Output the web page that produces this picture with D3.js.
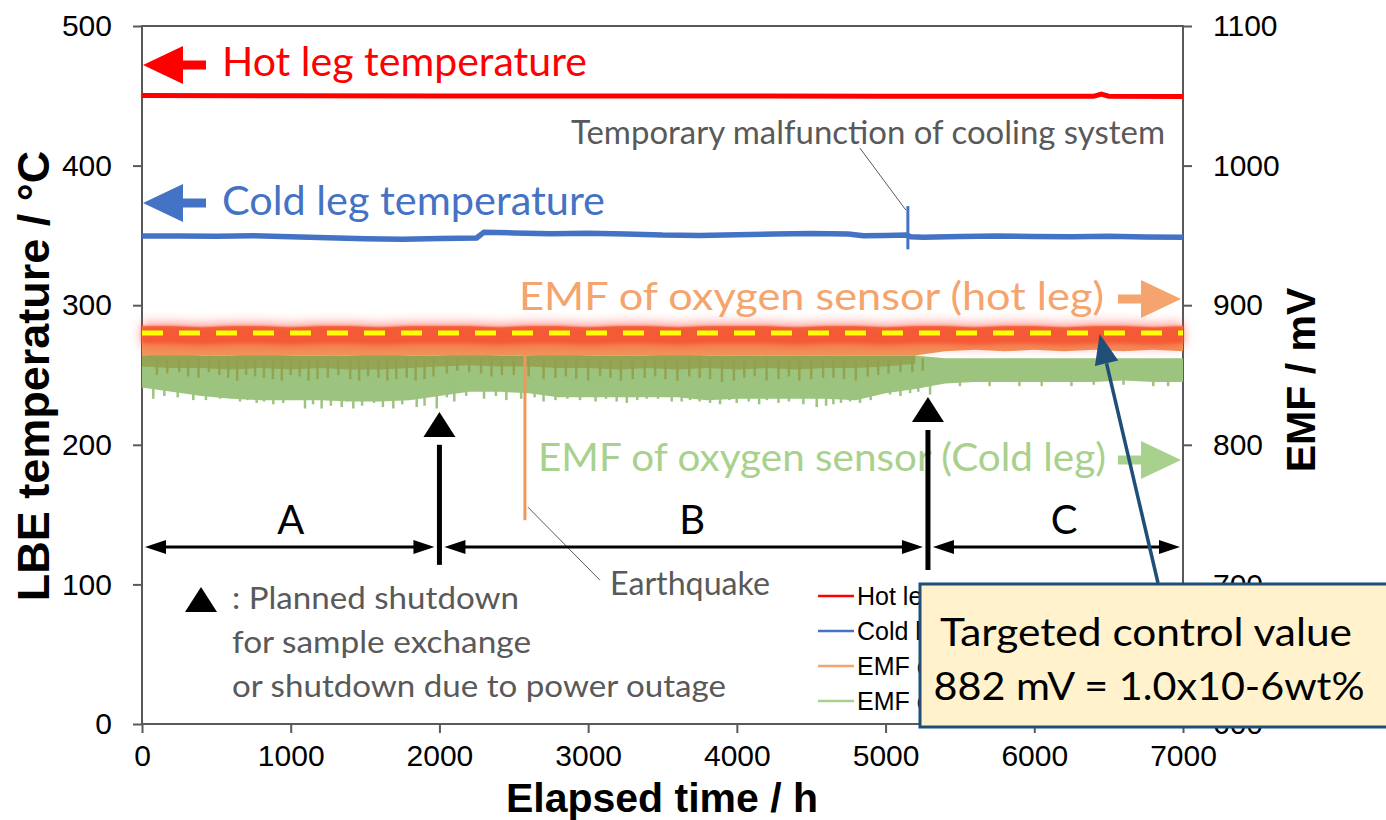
<!DOCTYPE html>
<html>
<head>
<meta charset="utf-8">
<script src="https://cdn.jsdelivr.net/npm/d3@7"></script>
<style>
body { margin: 0; background: #fff; }
svg text { font-family: Lato, "Open Sans", sans-serif; }
.axisText { font-family: "Liberation Sans", Arial, sans-serif; }
</style>
</head>
<body>
<svg id="chart" width="1386" height="820"></svg>
<script>
// temperatures (degC)
var hotHours = [0, 1000, 2000, 3000, 4000, 5000, 6000, 6400, 6450, 6500, 7000];
var hotTemp = [450.2, 450.0, 449.9, 449.9, 449.8, 449.7, 449.6, 449.6, 451.2, 449.7, 449.5];

var coldHours = [0, 250, 500, 750, 1000, 1250, 1500, 1750, 2000, 2250, 2300, 2500, 2750, 3000, 3250, 3500, 3750, 4000, 4250, 4500, 4750, 4850, 5000, 5140, 5170, 5250, 5500, 5750, 6000, 6250, 6500, 6750, 7000];
var coldTemp = [349.5, 349.6, 349.4, 349.8, 349.0, 348.3, 347.6, 347.3, 347.8, 348.2, 352.3, 351.8, 351.2, 351.6, 351.0, 350.2, 350.0, 350.4, 351.0, 351.3, 351.0, 349.8, 350.0, 350.3, 349.0, 348.6, 349.2, 349.5, 349.2, 349.0, 349.4, 348.8, 348.6];
var coldSpikeHour = 5150;
var coldSpikeRange = [340, 371];

// EMF envelopes (mV), every 200 h
var emfHours = [0, 200, 400, 600, 800, 1000, 1200, 1400, 1600, 1800, 2000, 2200, 2400, 2600, 2800, 3000, 3200, 3400, 3600, 3800, 4000, 4200, 4400, 4600, 4800, 5000, 5200, 5400, 5600, 5800, 6000, 6200, 6400, 6600, 6800, 7000];
var emfHotTop = [885, 885, 884, 885, 885, 884, 885, 885, 884, 885, 885, 885, 884, 885, 885, 884, 885, 885, 884, 885, 885, 885, 884, 885, 885, 884, 885, 885, 884, 885, 885, 884, 885, 885, 884, 885];
var emfHotBottom = [864, 864, 864, 864, 864, 864, 864, 864, 864, 864, 864, 864, 864, 864, 864, 864, 864, 864, 864, 864, 864, 864, 864, 864, 864, 864, 864, 867, 868, 867, 868, 867, 868, 867, 868, 867];
var emfColdTop = [864, 865, 864, 864, 865, 864, 864, 864, 865, 864, 864, 865, 864, 864, 865, 864, 864, 864, 865, 864, 864, 864, 864, 864, 864, 864, 864, 862, 862, 862, 862, 862, 862, 862, 862, 862];
var emfColdBottom = [841, 838, 835, 833, 832, 832, 832, 831, 831, 832, 835, 838, 838, 837, 834, 834, 834, 834, 834, 832, 833, 833, 833, 833, 832, 837, 840, 844, 845, 845, 845, 845, 845, 846, 845, 845];
// hot-leg trace dipping into the cold-leg band (0 - 5200 h)
var overlapBottom = [856, 855, 855, 854, 855, 854, 855, 854, 854, 855, 856, 857, 856, 856, 855, 855, 854, 855, 854, 855, 854, 855, 854, 855, 855, 856, 858];

var overlapDipHours = [100, 170, 250, 310, 380, 450, 520, 580, 640, 700, 760, 820, 880, 940, 1000, 1060, 1120, 1180, 1250, 1320, 1400, 1460, 1520, 1590, 1650, 1710, 1780, 1840, 1900, 1960, 2050, 2120, 2200, 2280, 2350, 2420, 2500, 2600, 2700, 2780, 2850, 2920, 3000, 3080, 3150, 3220, 3300, 3380, 3450, 3520, 3600, 3680, 3750, 3820, 3900, 3980, 4050, 4120, 4200, 4280, 4350, 4420, 4500, 4580, 4650, 4720, 4800, 4880, 4950, 5020, 5100, 5180, 5250];
var overlapDipMv = [850, 851, 852, 849, 848, 852, 850, 848, 846, 850, 849, 848, 847, 846, 850, 849, 846, 847, 848, 850, 847, 846, 849, 848, 846, 847, 848, 846, 847, 849, 851, 853, 852, 851, 849, 850, 850, 849, 847, 848, 849, 847, 846, 849, 848, 846, 847, 848, 849, 847, 846, 849, 848, 847, 845, 846, 848, 849, 846, 847, 849, 846, 847, 848, 848, 847, 846, 849, 850, 851, 852, 852, 853];
var coldDipHours = [76, 150, 240, 345, 430, 525, 600, 659, 710, 771, 820, 883, 950, 1020, 1096, 1150, 1208, 1270, 1343, 1380, 1421, 1480, 1560, 1620, 1690, 1750, 1847, 1900, 1982, 2050, 2100, 2180, 2300, 2380, 2450, 2550, 2640, 2700, 2780, 2860, 2945, 3050, 3120, 3192, 3260, 3330, 3394, 3470, 3562, 3629, 3685, 3750, 3820, 3887, 3950, 3999, 4080, 4150, 4201, 4280, 4350, 4447, 4537, 4600, 4649, 4700, 4761, 4828, 4900, 5030, 5100, 5165, 5220, 5299, 5500, 5700, 5900, 6050, 6250, 6400, 6600, 6800, 6900];
var coldDipMv = [834, 836, 835, 833, 833, 834, 835, 832, 833, 831, 832, 830, 831, 833, 827, 830, 827, 829, 828, 832, 827, 829, 831, 828, 827, 830, 828, 829, 827, 835, 832, 836, 834, 836, 833, 834, 835, 832, 833, 834, 833, 832, 834, 832, 831, 833, 834, 834, 832, 832, 833, 832, 831, 830, 833, 831, 832, 830, 833, 831, 832, 830, 828, 829, 830, 831, 832, 831, 833, 837, 836, 838, 839, 837, 843, 843, 843, 843, 843, 844, 844, 843, 843];

var quakeHour = 2575;
var quakeRange = [746, 864];
var targetMv = 880;

var shutdownHours = [2000, 5285];
var shutdownTip = [223.5, 234.2];
var shutdownShaft = [[200, 114], [210.6, 110.3]];

var periodNames = ["A", "B", "C"];
var periodStart = [0, 2000, 5285];
var periodEnd = [2000, 5285, 7000];
var periodLabelHour = [1000, 3700, 6200];
var periodLevel = 126.8;

var xTicks = [0, 1000, 2000, 3000, 4000, 5000, 6000, 7000];
var leftTicks = [0, 100, 200, 300, 400, 500];
var rightTicks = [600, 700, 800, 900, 1000, 1100];

var legendNames = ["Hot leg temperature", "Cold leg temperature", "EMF of oxygen sensor (hot leg)", "EMF of oxygen sensor (Cold leg)"];

var hotColor = "#ff0000";
var coldColor = "#4472c4";
var emfHotColor = "#f0965a";
var emfHotText = "#f4a46c";
var emfColdColor = "#9cc47f";
var emfColdText = "#a9d18e";
var overlapColor = "#93a04d";
var grey = "#595959";
var calloutBlue = "#1f4e79";

var svg = d3.select("#chart");

var x = d3.scaleLinear().domain([0, 7000]).range([142, 1183]);
var yL = d3.scaleLinear().domain([0, 500]).range([724, 26]);
var yR = d3.scaleLinear().domain([600, 1100]).range([724, 26]);

var defs = svg.append("defs");
defs.append("filter").attr("id", "glow")
    .attr("x", "-5%").attr("y", "-300%").attr("width", "110%").attr("height", "700%")
    .append("feGaussianBlur").attr("stdDeviation", 6);
defs.append("filter").attr("id", "soft")
    .attr("x", "-5%").attr("y", "-200%").attr("width", "110%").attr("height", "500%")
    .append("feGaussianBlur").attr("stdDeviation", 1.6);
defs.append("clipPath").attr("id", "legendClip")
    .append("rect").attr("x", 0).attr("y", 560).attr("width", 920).attr("height", 170);

// axes
var fmt = d3.format("d");
var gLeft = svg.append("g").attr("transform", "translate(142,0)")
    .call(d3.axisLeft(yL).tickValues(leftTicks).tickFormat(fmt).tickSize(9).tickPadding(21));
var gRight = svg.append("g").attr("transform", "translate(1183,0)")
    .call(d3.axisRight(yR).tickValues(rightTicks).tickFormat(fmt).tickSize(9).tickPadding(21));
var gBottom = svg.append("g").attr("transform", "translate(0,724)")
    .call(d3.axisBottom(x).tickValues(xTicks).tickFormat(fmt).tickSize(9).tickPadding(12));

[gLeft, gRight, gBottom].forEach(function (g) {
    g.select(".domain").remove();
    g.selectAll(".tick line").attr("stroke", grey).attr("stroke-width", 2);
    g.selectAll(".tick text").attr("class", "axisText").attr("fill", "#000").style("font-size", "30px");
});

svg.append("rect")
    .attr("x", x(0)).attr("y", yL(500))
    .attr("width", x(7000) - x(0)).attr("height", yL(0) - yL(500))
    .attr("fill", "none").attr("stroke", grey).attr("stroke-width", 2);

// axis titles
svg.append("text").attr("class", "axisText")
    .attr("transform", "translate(49,376) rotate(-90)")
    .attr("text-anchor", "middle").style("font-size", "45px").style("font-weight", "bold")
    .text("LBE temperature / °C");
svg.append("text").attr("class", "axisText")
    .attr("transform", "translate(1315,380) rotate(-90)")
    .attr("text-anchor", "middle").style("font-size", "41px").style("font-weight", "bold")
    .text("EMF / mV");
svg.append("text").attr("class", "axisText")
    .attr("x", 662).attr("y", 812)
    .attr("text-anchor", "middle").style("font-size", "41px").style("font-weight", "bold")
    .text("Elapsed time / h");

// EMF bands
function band(top, bottom, n) {
    return d3.area()
        .x(function (d, i) { return x(emfHours[i]); })
        .y0(function (d, i) { return yR(bottom[i]); })
        .y1(function (d, i) { return yR(top[i]); })(d3.range(n));
}

svg.append("path").attr("d", band(emfColdTop, emfColdBottom, emfHours.length))
    .attr("fill", emfColdColor);

svg.selectAll(".coldDip")
    .data(coldDipHours)
    .enter().append("line").attr("class", "coldDip")
    .attr("x1", function (d) { return x(d); })
    .attr("x2", function (d) { return x(d); })
    .attr("y1", yR(858))
    .attr("y2", function (d, i) { return yR(coldDipMv[i] - 1); })
    .attr("stroke", emfColdColor).attr("stroke-width", 2.5);

svg.append("path").attr("d", band(emfColdTop, overlapBottom, overlapBottom.length))
    .attr("fill", overlapColor).attr("opacity", 0.85);

svg.selectAll(".overlapDip")
    .data(overlapDipHours)
    .enter().append("line").attr("class", "overlapDip")
    .attr("x1", function (d) { return x(d); })
    .attr("x2", function (d) { return x(d); })
    .attr("y1", yR(862))
    .attr("y2", function (d, i) { return yR(overlapDipMv[i]); })
    .attr("stroke", overlapColor).attr("stroke-width", 2.5).attr("opacity", 0.9);

svg.append("path").attr("d", band(emfHotTop, emfHotBottom, emfHours.length))
    .attr("fill", emfHotColor);

// red highlight glow round the hot-leg EMF
var glowTop = emfHotTop.map(function (v) { return v + 2; });
var glowBottom = emfHotTop.map(function (v) { return v - 14; });
svg.append("path").attr("d", band(glowTop, glowBottom, emfHours.length))
    .attr("fill", "#ff3c32").attr("opacity", 0.55).attr("filter", "url(#glow)");
var coreBottom = emfHotTop.map(function (v) { return v - 12; });
svg.append("path").attr("d", band(emfHotTop, coreBottom, emfHours.length))
    .attr("fill", "#f45a34").attr("filter", "url(#soft)");

svg.append("line")
    .attr("x1", x(quakeHour)).attr("x2", x(quakeHour))
    .attr("y1", yR(quakeRange[1])).attr("y2", yR(quakeRange[0]))
    .attr("stroke", emfHotColor).attr("stroke-width", 3);

svg.append("line")
    .attr("x1", x(0)).attr("x2", x(7000))
    .attr("y1", yR(targetMv)).attr("y2", yR(targetMv))
    .attr("stroke", "#ffff00").attr("stroke-width", 5).attr("stroke-dasharray", "21,16");

// temperatures
var tempLine = d3.line()
    .x(function (d) { return x(d[0]); })
    .y(function (d) { return yL(d[1]); });

svg.append("path").datum(hotHours.map(function (h, i) { return [h, hotTemp[i]]; }))
    .attr("d", tempLine).attr("fill", "none").attr("stroke", hotColor).attr("stroke-width", 5);
svg.append("path").datum(coldHours.map(function (h, i) { return [h, coldTemp[i]]; }))
    .attr("d", tempLine).attr("fill", "none").attr("stroke", coldColor).attr("stroke-width", 5.5);
svg.append("line")
    .attr("x1", x(coldSpikeHour)).attr("x2", x(coldSpikeHour))
    .attr("y1", yL(coldSpikeRange[0])).attr("y2", yL(coldSpikeRange[1]))
    .attr("stroke", coldColor).attr("stroke-width", 3);

// fat arrows beside the labels
function fatArrow(tipX, cy, dir, color) {
    var p = [[0, 0], [40, -19], [40, -4.5], [63, -4.5], [63, 4.5], [40, 4.5], [40, 19]];
    return svg.append("polygon")
        .attr("points", p.map(function (q) { return [tipX + dir * q[0], cy + q[1]].join(","); }).join(" "))
        .attr("fill", color);
}
fatArrow(143, 65, 1, hotColor);
fatArrow(143, 203, 1, coldColor);
fatArrow(1181, 299, -1, emfHotText);
fatArrow(1181, 460, -1, emfColdText);

var labels = [
    { t: "Hot leg temperature", x: 222, y: 76, s: 41, c: hotColor, w: 365 },
    { t: "Cold leg temperature", x: 222, y: 215, s: 41, c: coldColor, w: 383 },
    { t: "EMF of oxygen sensor (hot leg)", x: 519, y: 310, s: 39, c: emfHotText, w: 585 },
    { t: "EMF of oxygen sensor (Cold leg)", x: 538, y: 471, s: 39, c: emfColdText, w: 568 },
    { t: "Temporary malfunction of cooling system", x: 571, y: 144, s: 32, c: grey, w: 594 },
    { t: "Earthquake", x: 610, y: 595, s: 32, c: grey, w: 160 },
    { t: ": Planned shutdown", x: 232, y: 609, s: 31, c: grey, w: 287 },
    { t: "for sample exchange", x: 232, y: 653, s: 31, c: grey, w: 299 },
    { t: "or shutdown due to power outage", x: 232, y: 697, s: 31, c: grey, w: 494 }
];
svg.selectAll(".note")
    .data(labels)
    .enter().append("text").attr("class", "note")
    .attr("x", function (d) { return d.x; })
    .attr("y", function (d) { return d.y; })
    .attr("fill", function (d) { return d.c; })
    .attr("textLength", function (d) { return d.w; })
    .attr("lengthAdjust", "spacingAndGlyphs")
    .style("font-size", function (d) { return d.s + "px"; })
    .text(function (d) { return d.t; });

// leader lines
svg.append("line")
    .attr("x1", x(coldSpikeHour) - 48).attr("y1", yL(coldSpikeRange[1]) - 58)
    .attr("x2", x(coldSpikeHour) - 2).attr("y2", yL(coldSpikeRange[1]) + 4)
    .attr("stroke", grey).attr("stroke-width", 1);
svg.append("line")
    .attr("x1", x(quakeHour) + 3).attr("y1", yR(quakeRange[0]) - 13)
    .attr("x2", x(quakeHour) + 75).attr("y2", yR(quakeRange[0]) + 60)
    .attr("stroke", grey).attr("stroke-width", 1);

// shutdowns
shutdownHours.forEach(function (h, i) {
    var tx = x(h), ty = yL(shutdownTip[i]);
    svg.append("polygon")
        .attr("points", [[tx, ty], [tx - 16, ty + 25], [tx + 16, ty + 25]].map(String).join(" "))
        .attr("fill", "#000");
    svg.append("line")
        .attr("x1", tx).attr("x2", tx)
        .attr("y1", yL(shutdownShaft[i][0])).attr("y2", yL(shutdownShaft[i][1]))
        .attr("stroke", "#000").attr("stroke-width", 5);
});
svg.append("polygon")
    .attr("points", [[201, 587], [185, 612], [217, 612]].map(String).join(" "))
    .attr("fill", "#000");

// periods A / B / C
var py = yL(periodLevel);
periodNames.forEach(function (name, i) {
    var a = x(periodStart[i]) + (i == 0 ? 3 : 5);
    var b = x(periodEnd[i]) - (i == 2 ? 3 : 5);
    svg.append("line").attr("x1", a + 10).attr("x2", b - 10).attr("y1", py).attr("y2", py)
        .attr("stroke", "#000").attr("stroke-width", 3);
    svg.append("polygon").attr("points", [[a, py], [a + 21, py - 7], [a + 21, py + 7]].map(String).join(" "));
    svg.append("polygon").attr("points", [[b, py], [b - 21, py - 7], [b - 21, py + 7]].map(String).join(" "));
    svg.append("text")
        .attr("x", x(periodLabelHour[i])).attr("y", 534)
        .attr("text-anchor", "middle").style("font-size", "40px")
        .text(name);
});

// legend, mostly hidden behind the callout
var legendColors = [hotColor, coldColor, emfHotText, emfColdText];
var legend = svg.append("g").attr("clip-path", "url(#legendClip)");
legendNames.forEach(function (name, i) {
    var ly = 596 + i * 35;
    legend.append("line").attr("x1", 818).attr("x2", 854).attr("y1", ly).attr("y2", ly)
        .attr("stroke", legendColors[i]).attr("stroke-width", 2.5);
    legend.append("text").attr("class", "axisText")
        .attr("x", 857).attr("y", ly + 9).style("font-size", "25px")
        .text(name);
});

// callout
svg.append("rect")
    .attr("x", 920).attr("y", 584).attr("width", 480).attr("height", 143)
    .attr("fill", "#fff2cc").attr("stroke", calloutBlue).attr("stroke-width", 3);
svg.append("text")
    .attr("x", 1146).attr("y", 646).attr("text-anchor", "middle")
    .attr("textLength", 412).attr("lengthAdjust", "spacingAndGlyphs")
    .style("font-size", "39px").text("Targeted control value");
svg.append("text")
    .attr("x", 1149).attr("y", 700).attr("text-anchor", "middle")
    .attr("textLength", 431).attr("lengthAdjust", "spacingAndGlyphs")
    .style("font-size", "39px").text("882 mV = 1.0x10-6wt%");

var tipX = x(6440), tipY = yR(targetMv) + 1;
var baseX = 1158, baseY = 583;
var ang = Math.atan2(tipY - baseY, tipX - baseX);
var hl = 30, hw = 12;
var hx = tipX - hl * Math.cos(ang), hy = tipY - hl * Math.sin(ang);
svg.append("line").attr("x1", baseX).attr("y1", baseY).attr("x2", hx).attr("y2", hy)
    .attr("stroke", calloutBlue).attr("stroke-width", 3.5);
svg.append("polygon")
    .attr("points", [[tipX, tipY],
        [hx + hw * Math.sin(ang), hy - hw * Math.cos(ang)],
        [hx - hw * Math.sin(ang), hy + hw * Math.cos(ang)]].map(String).join(" "))
    .attr("fill", calloutBlue);
</script>
</body>
</html>
